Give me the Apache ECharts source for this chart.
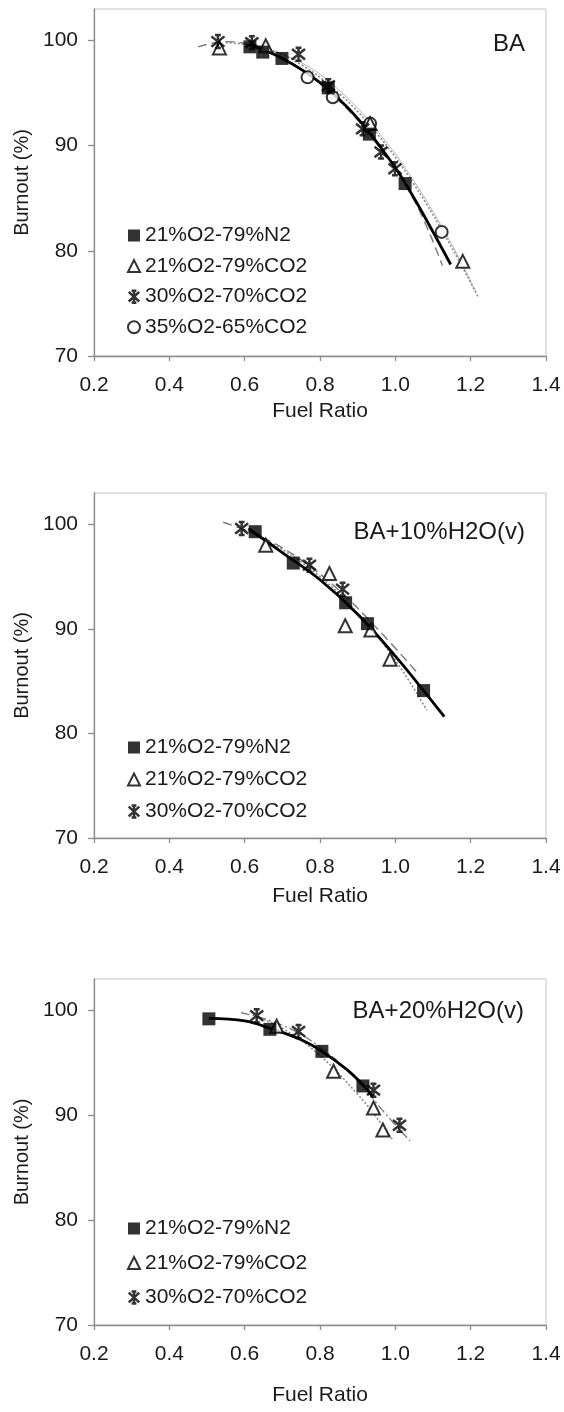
<!DOCTYPE html>
<html>
<head>
<meta charset="utf-8">
<script src="https://cdn.jsdelivr.net/npm/echarts@6/dist/echarts.min.js"></script>
<style>
html,body{margin:0;padding:0;background:#fff;}
#c{width:564px;height:1412px;}
</style>
</head>
<body>
<div id="c"></div>
<script>
// ---------- data ----------
const seriesNames = ['21%O2-79%N2', '21%O2-79%CO2', '30%O2-70%CO2', '35%O2-65%CO2'];
const panelTitles = ['BA', 'BA+10%H2O(v)', 'BA+20%H2O(v)'];
const xTickValues = [0.2, 0.4, 0.6, 0.8, 1.0, 1.2, 1.4];
const yTickValues = [70, 80, 90, 100];

// Panel 1 (BA)
const p1_N2 = [[0.614, 99.4], [0.648, 98.9], [0.699, 98.3], [0.822, 95.5], [0.931, 91.1], [1.026, 86.4]];
const p1_CO2_21 = [[0.533, 99.3], [0.656, 99.5], [0.933, 92.1], [1.179, 79.0]];
const p1_CO2_30 = [[0.529, 99.9], [0.619, 99.8], [0.743, 98.7], [0.822, 95.7], [0.913, 91.6], [0.962, 89.4], [0.999, 87.8]];
const p1_CO2_35 = [[0.767, 96.5], [0.834, 94.6], [0.933, 92.1], [1.123, 81.8]];
const p1_fitSolid = [[0.61, 99.6], [0.70, 98.3], [0.80, 96.0], [0.90, 92.6], [1.00, 87.9], [1.05, 85.0], [1.10, 81.8], [1.147, 78.7]];
const p1_fitDash = [[0.476, 99.4], [0.55, 99.9], [0.65, 99.2], [0.75, 97.3], [0.85, 94.3], [0.95, 90.2], [1.05, 84.8], [1.125, 78.6]];
const p1_fitDot = [[0.55, 99.8], [0.65, 99.3], [0.75, 97.7], [0.85, 95.0], [0.95, 91.2], [1.05, 86.3], [1.15, 80.3], [1.22, 75.6]];
const p1_fitThin = [[0.62, 99.7], [0.75, 97.9], [0.85, 95.3], [0.95, 91.5], [1.05, 86.6], [1.15, 80.6], [1.215, 76.0]];

// Panel 2 (BA+10%H2O(v))
const p2_N2 = [[0.628, 99.3], [0.729, 96.3], [0.868, 92.5], [0.926, 90.5], [1.075, 84.1]];
const p2_CO2_21 = [[0.656, 98.0], [0.825, 95.3], [0.867, 90.3], [0.935, 89.9], [0.986, 87.1]];
const p2_CO2_30 = [[0.592, 99.6], [0.772, 96.1], [0.860, 93.8]];
const p2_fitSolid = [[0.61, 99.6], [0.70, 97.3], [0.80, 94.7], [0.90, 91.4], [1.00, 87.4], [1.075, 84.1], [1.13, 81.6]];
const p2_fitDash = [[0.543, 100.2], [0.65, 98.7], [0.75, 96.6], [0.85, 93.7], [0.95, 90.1], [1.061, 85.7]];
const p2_fitDot = [[0.60, 99.5], [0.70, 97.6], [0.80, 95.0], [0.90, 91.5], [1.00, 87.0], [1.084, 82.2]];

// Panel 3 (BA+20%H2O(v))
const p3_N2 = [[0.505, 99.2], [0.667, 98.2], [0.805, 96.1], [0.914, 92.8]];
const p3_CO2_21 = [[0.685, 98.5], [0.836, 94.2], [0.942, 90.7], [0.967, 88.6]];
const p3_CO2_30 = [[0.632, 99.5], [0.743, 98.0], [0.942, 92.4], [1.011, 89.05]];
const p3_fitSolid = [[0.505, 99.25], [0.60, 99.0], [0.667, 98.3], [0.75, 97.2], [0.805, 96.1], [0.87, 94.4], [0.914, 92.9], [0.94, 91.8]];
const p3_fitDash = [[0.59, 99.8], [0.70, 98.6], [0.80, 96.5], [0.90, 93.3], [0.97, 90.3], [1.039, 87.55]];
const p3_fitDot = [[0.63, 99.4], [0.70, 98.3], [0.80, 95.7], [0.90, 92.0], [0.95, 89.8], [0.995, 87.55]];

// ---------- styling ----------
const FONT = 'Liberation Sans, Arial, Helvetica, sans-serif';
const TXT = '#1a1a1a';
const starPath = 'path://M5,0 L5,10 M0.6,1 L9.4,9 M9.4,1 L0.6,9 M3,0 L7,0 M3,10 L7,10';

const markerStyles = [
  { symbol: 'rect', symbolSize: 13, itemStyle: { color: '#000', borderColor: '#000', borderWidth: 0 } },
  { symbol: 'triangle', symbolSize: 13, itemStyle: { color: '#fff', borderColor: '#000', borderWidth: 2 } },
  { symbol: starPath, symbolSize: 13, itemStyle: { color: 'rgba(0,0,0,0)', borderColor: '#000', borderWidth: 2.5 } },
  { symbol: 'circle', symbolSize: 12, itemStyle: { color: '#fff', borderColor: '#000', borderWidth: 2 } }
];

const grids = [
  { left: 94, top: 9, width: 452, height: 347 },
  { left: 94, top: 493, width: 452, height: 345 },
  { left: 94, top: 979, width: 452, height: 346 }
].map(g => Object.assign({ show: true, borderColor: '#c4c4c4', borderWidth: 1, backgroundColor: 'transparent' }, g));

const xNameGaps = [45, 48, 60];

const xAxes = grids.map((g, i) => ({
  type: 'value', gridIndex: i, min: 0.2, max: 1.4, interval: 0.2,
  name: 'Fuel Ratio', nameLocation: 'middle', nameGap: xNameGaps[i],
  nameTextStyle: { fontFamily: FONT, fontSize: 21, color: TXT },
  axisLine: { show: true, lineStyle: { color: '#8c8c8c', width: 1.3 } },
  axisTick: { show: true, inside: false, length: 5, lineStyle: { color: '#8c8c8c', width: 1.3 } },
  axisLabel: { margin: 19, fontFamily: FONT, fontSize: 21, color: TXT, formatter: v => v.toFixed(1) },
  splitLine: { show: false }
}));

const yAxes = grids.map((g, i) => ({
  type: 'value', gridIndex: i, min: 70, max: 103,
  name: 'Burnout (%)', nameLocation: 'middle', nameGap: 62, nameRotate: 90,
  nameTextStyle: { fontFamily: FONT, fontSize: 20, color: TXT },
  axisLine: { show: true, lineStyle: { color: '#8c8c8c', width: 1.3 } },
  axisTick: { show: true, inside: false, length: 6, customValues: yTickValues, lineStyle: { color: '#8c8c8c', width: 1.3 } },
  axisLabel: { margin: 16, fontFamily: FONT, fontSize: 21, color: TXT, customValues: yTickValues },
  splitLine: { show: false }
}));

function scatter(name, idx, data, panel) {
  const m = markerStyles[idx];
  return { type: 'scatter', name, xAxisIndex: panel, yAxisIndex: panel, data,
    symbol: m.symbol, symbolSize: m.symbolSize, itemStyle: m.itemStyle, z: 5, silent: true };
}
function fit(data, panel, style) {
  return { type: 'line', name: 'fit', xAxisIndex: panel, yAxisIndex: panel, data, smooth: 0.4,
    symbol: 'none', lineStyle: style, z: 3, silent: true };
}
const solid = { color: '#000', width: 2.8, type: 'solid' };
const dashed = { color: '#7a7a7a', width: 1.4, type: [9, 5] };
const dotted = { color: '#8a8a8a', width: 1.6, type: [2, 2] };
const thin = { color: '#b5b5b5', width: 1.0, type: 'solid' };
const dashDot = { color: '#7a7a7a', width: 1.3, type: [9, 3, 2, 3] };

const series = [
  fit(p1_fitThin, 0, thin), fit(p1_fitDot, 0, dotted), fit(p1_fitDash, 0, dashed), fit(p1_fitSolid, 0, solid),
  scatter(seriesNames[3], 3, p1_CO2_35, 0), scatter(seriesNames[1], 1, p1_CO2_21, 0),
  scatter(seriesNames[0], 0, p1_N2, 0), scatter(seriesNames[2], 2, p1_CO2_30, 0),

  fit(p2_fitDot, 1, dotted), fit(p2_fitDash, 1, dashed), fit(p2_fitSolid, 1, solid),
  scatter(seriesNames[1], 1, p2_CO2_21, 1), scatter(seriesNames[0], 0, p2_N2, 1), scatter(seriesNames[2], 2, p2_CO2_30, 1),

  fit(p3_fitDot, 2, dotted), fit(p3_fitDash, 2, dashDot), fit(p3_fitSolid, 2, solid),
  scatter(seriesNames[1], 1, p3_CO2_21, 2), scatter(seriesNames[0], 0, p3_N2, 2), scatter(seriesNames[2], 2, p3_CO2_30, 2)
];

function legend(top, names, gap) {
  return {
    orient: 'vertical', left: 127, top, padding: 0, itemGap: gap, itemWidth: 12, itemHeight: 12,
    selectedMode: false,
    data: names.map((n, i) => ({ name: n, icon: markerStyles[i].symbol, itemStyle: markerStyles[i].itemStyle })),
    textStyle: { fontFamily: FONT, fontSize: 21, color: TXT, lineHeight: 21, padding: [0, 0, 0, 0] }
  };
}

const titles = [
  { text: panelTitles[0], right: 39, top: 32 },
  { text: panelTitles[1], right: 39, top: 520 },
  { text: panelTitles[2], right: 40, top: 999 }
].map(t => Object.assign({ padding: 0, textStyle: { fontFamily: FONT, fontSize: 24, fontWeight: 'normal', color: TXT } }, t));

const chart = echarts.init(document.getElementById('c'), null, { renderer: 'canvas' });
chart.setOption({
  animation: false,
  backgroundColor: '#fff',
  title: titles,
  grid: grids,
  xAxis: xAxes,
  yAxis: yAxes,
  legend: [
    legend(225, seriesNames, 9.6),
    legend(737, seriesNames.slice(0, 3), 11),
    legend(1218, seriesNames.slice(0, 3), 13.5)
  ],
  series
});
</script>
</body>
</html>
